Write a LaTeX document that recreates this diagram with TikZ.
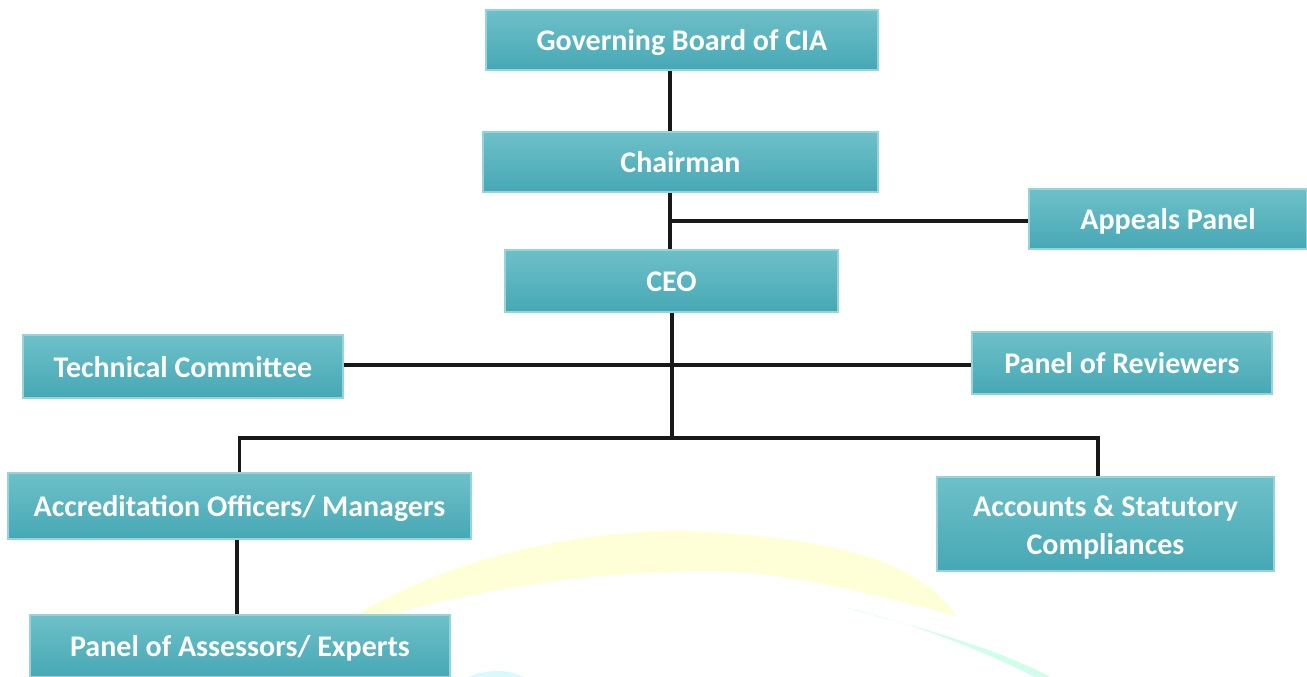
\documentclass[tikz,border=0pt]{standalone}
\usepackage{fontspec}
\setmainfont{Carlito}
\definecolor{btop}{RGB}{110,192,200}
\definecolor{bmid}{RGB}{82,186,199}
\definecolor{bbot}{RGB}{70,168,181}
\definecolor{bline}{RGB}{150,212,220}
\definecolor{wmyellow}{RGB}{255,255,215}
\definecolor{wmgreen}{RGB}{205,255,235}
\definecolor{wmcyan}{RGB}{215,250,250}
\begin{document}
\begin{tikzpicture}[x=1pt,y=-1pt,
  orgbase/.style={draw=bline, line width=1.2pt, top color=btop, middle color=bmid, bottom color=bbot,
    text=white, font=\fontsize{30}{38}\selectfont\bfseries, inner sep=0pt, align=center},
  orgbox/.style={orgbase, text height=27pt, text depth=6pt},
  conn/.style={line width=3.5pt, black!90}]
\useasboundingbox (0,0) rectangle (1307,677);
% watermark arcs
\fill[wmyellow] (356,615) .. controls (480,540) and (640,525) .. (720,533)
  .. controls (830,540) and (920,560) .. (956,616)
  .. controls (860,590) and (760,565) .. (672,572)
  .. controls (560,575) and (460,595) .. (397,613) -- cycle;
\fill[wmgreen] (843,607) .. controls (930,630) and (1000,650) .. (1050,677)
  -- (1035,677) .. controls (980,650) and (920,625) .. cycle;
\fill[wmcyan] (468,677) .. controls (485,670) and (505,668) .. (524,677) -- cycle;
% boxes
\node[orgbox, minimum width=392, minimum height=60] (gov) at (682,40) {Governing Board of CIA};
\node[orgbox, minimum width=395, minimum height=60] (chair) at (680.5,162) {Chairman};
\node[orgbox, minimum width=278, minimum height=60] (appeals) at (1168,219) {Appeals Panel};
\node[orgbox, minimum width=333, minimum height=62] (ceo) at (671.5,281) {CEO};
\node[orgbox, minimum width=320, minimum height=63] (tech) at (183,366.5) {Technical Committee};
\node[orgbox, minimum width=300, minimum height=62] (rev) at (1122,363) {Panel of Reviewers};
\node[orgbox, minimum width=463, minimum height=66] (acc) at (239.5,506) {Accreditation Officers/ Managers};
\node[orgbase, minimum width=337, minimum height=94] (accounts) at (1105.5,524) {\rule{0pt}{28pt}Accounts \& Statutory\\Compliances};
\node[orgbox, minimum width=420, minimum height=62] (assess) at (240,646) {Panel of Assessors/ Experts};
% connectors
\coordinate (sp) at (670,221);
\coordinate (bus) at (672,438);
\coordinate (mid) at (672,365);
\coordinate (accx) at (1098,438);
\coordinate (offx) at (237,0);
\draw[conn] (gov.south -| sp) -- (chair.north -| sp);
\draw[conn] (chair.south -| sp) -- (ceo.north -| sp);
\draw[conn] (sp) -- (sp -| appeals.west);
\draw[conn] (ceo.south -| bus) -- (bus);
\draw[conn] (mid -| tech.east) -- (mid -| rev.west);
\draw[conn] (acc.north) |- (bus) -- (accx) -- (accounts.north -| accx);
\draw[conn] (acc.south -| offx) -- (assess.north -| offx);
\end{tikzpicture}
\end{document}
